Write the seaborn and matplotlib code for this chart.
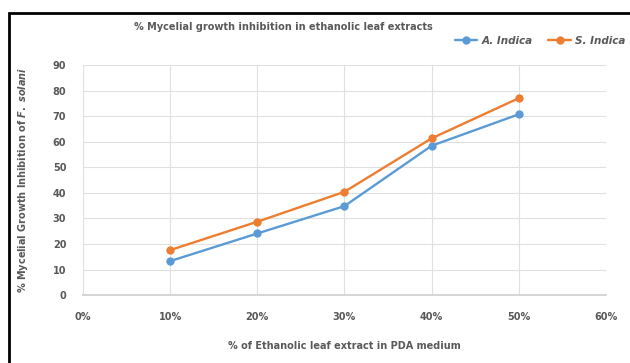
import matplotlib
matplotlib.use("Agg")
import matplotlib.pyplot as plt
import seaborn as sns
import pandas as pd
from matplotlib.ticker import FuncFormatter
from matplotlib.patches import Rectangle

concentrations = [10, 20, 30, 40, 50]
a_indica = [13.3, 24.1, 34.8, 58.4, 70.7]
s_indica = [17.6, 28.7, 40.4, 61.3, 77.0]
series_names = ["A. Indica", "S. Indica"]
x_ticks = [0, 10, 20, 30, 40, 50, 60]
y_ticks = [0, 10, 20, 30, 40, 50, 60, 70, 80, 90]

df = pd.DataFrame({
    "conc": concentrations * 2,
    "value": a_indica + s_indica,
    "series": [series_names[0]] * len(a_indica) + [series_names[1]] * len(s_indica),
})

sns.set_theme(style="white")
plt.rcParams["font.family"] = ["DejaVu Sans"]
plt.rcParams["mathtext.fontset"] = "custom"
plt.rcParams["mathtext.it"] = "DejaVu Sans:italic:bold"
plt.rcParams["mathtext.rm"] = "DejaVu Sans:bold"

txt = "#595959"
fig = plt.figure(figsize=(6.3, 3.63), dpi=100)
ax = fig.add_axes([0.1317, 0.187, 0.83, 0.634])

sns.lineplot(data=df, x="conc", y="value", hue="series",
             palette={"A. Indica": "#5B9BD5", "S. Indica": "#ED7D31"},
             marker="o", markersize=6, markeredgewidth=0, linewidth=1.7,
             ax=ax, legend=True)

ax.set_xlim(0, 60)
ax.set_ylim(0, 90)
ax.set_xticks(x_ticks)
ax.set_yticks(y_ticks)
ax.xaxis.set_major_formatter(FuncFormatter(lambda v, p: f"{int(v)}%"))
ax.grid(True, color="#E0E0E0", linewidth=0.8)
ax.set_axisbelow(True)
for s in ["top", "right", "left"]:
    ax.spines[s].set_visible(False)
ax.spines["bottom"].set_color("#D0D0D0")
ax.tick_params(axis="x", length=0, labelsize=7, labelcolor=txt, pad=12)
ax.tick_params(axis="y", length=0, labelsize=7, labelcolor=txt, pad=12)
for lbl in ax.get_xticklabels() + ax.get_yticklabels():
    lbl.set_fontweight("bold")

ax.set_xlabel("% of Ethanolic leaf extract in PDA medium", fontsize=7,
              fontweight="bold", color=txt, labelpad=14)
ax.set_ylabel(r"% Mycelial Growth Inhibition of $\mathit{F.}$ $\mathit{solani}$", fontsize=7,
              fontweight="bold", color=txt, labelpad=16)

fig.text(0.45, 0.925, "% Mycelial growth inhibition in ethanolic leaf extracts",
         ha="center", va="center", fontsize=7, fontweight="bold", color=txt)

handles, labels = ax.get_legend_handles_labels()
leg = ax.legend(handles, labels, ncol=2, loc="center right",
                bbox_to_anchor=(1.0, 0.888), bbox_transform=fig.transFigure,
                frameon=False, fontsize=7.5, handlelength=2.2, columnspacing=1.5,
                handletextpad=0.4, borderaxespad=0)
for t in leg.get_texts():
    t.set_fontstyle("italic")
    t.set_fontweight("bold")
    t.set_color(txt)

fig.patches.append(Rectangle((9 / 630, -0.01), 1.0, 1 - 13 / 363 + 0.01,
                             transform=fig.transFigure, fill=False,
                             edgecolor="black", linewidth=2))

fig.savefig("out.png", dpi=100)
